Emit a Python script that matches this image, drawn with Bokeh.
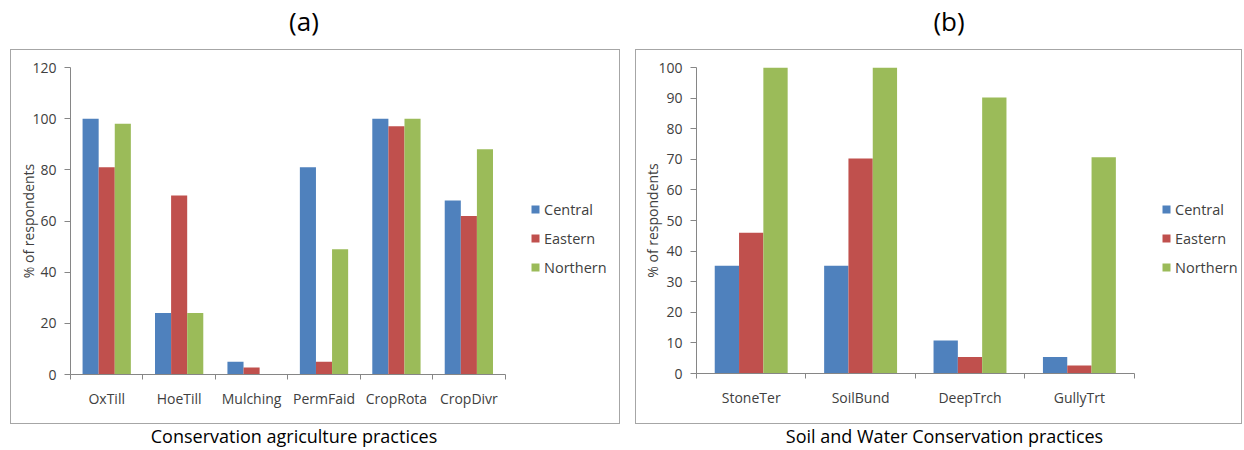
from bokeh.plotting import figure
from bokeh.models import (Range1d, LinearAxis, FixedTicker,
                          Legend, LegendItem, Div, ColumnDataSource)
from bokeh.layouts import row, column
from bokeh.transform import dodge
from bokeh.embed import file_html
from bokeh.resources import INLINE

# ---------------- data ----------------
regions = ["Central", "Eastern", "Northern"]
colors = ["#4F81BD", "#C0504D", "#9BBB59"]

ca_practices = ["OxTill", "HoeTill", "Mulching", "PermFaid", "CropRota", "CropDivr"]
ca_central = [100, 24, 5, 81, 100, 68]
ca_eastern = [81, 70, 2.7, 5, 97, 62]
ca_northern = [98, 24, 0, 49, 100, 88]
ca_yticks = [0, 20, 40, 60, 80, 100, 120]

swc_practices = ["StoneTer", "SoilBund", "DeepTrch", "GullyTrt"]
swc_central = [35.2, 35.2, 10.8, 5.4]
swc_eastern = [46, 70.3, 5.4, 2.6]
swc_northern = [100, 100, 90.2, 70.7]
swc_yticks = [0, 10, 20, 30, 40, 50, 60, 70, 80, 90, 100]

FONT = "Open Sans"
TXT = "#404040"
AX = "#868686"


def make_panel(cats, series, yticks, bar_w, frame_w, frame_h, left, bottom,
               legend_x, legend_y, ylab_standoff):
    n = len(cats)
    centers = [i + 0.5 for i in range(n)]
    src = ColumnDataSource(dict(pos=centers, Central=series[0], Eastern=series[1], Northern=series[2]))
    # the frame also holds the legend area to the right of the bars
    x_end = n * frame_w / bar_w
    p = figure(x_range=Range1d(0, x_end), y_range=Range1d(yticks[0], yticks[-1]),
               frame_width=frame_w, frame_height=frame_h,
               output_backend="svg", toolbar_location=None,
               x_axis_location=None, y_axis_location=None,
               min_border_left=left, min_border_right=1,
               min_border_top=17, min_border_bottom=bottom)
    p.outline_line_color = None
    p.background_fill_color = "white"
    p.border_fill_color = "white"
    p.styles = {"border": "1px solid #a6a6a6"}

    bw = 0.2222
    rends = []
    for i, (reg, col) in enumerate(zip(regions, colors)):
        r = p.vbar(x=dodge("pos", (i - 1) * bw), top=reg, width=bw,
                   source=src, fill_color=col, line_color=None)
        rends.append(r)

    # boundary ticks (Excel style), no labels
    edge_axis = LinearAxis(ticker=FixedTicker(ticks=list(range(n + 1))), bounds=(0, n),
                           major_label_overrides={k: "" for k in range(n + 1)},
                           major_label_standoff=0, major_tick_out=5, major_tick_in=0,
                           minor_tick_line_color=None, axis_line_color=AX,
                           major_tick_line_color=AX, major_label_text_font_size="1px")
    p.add_layout(edge_axis, "below")
    # category labels at centres, no ticks
    cat_axis = LinearAxis(ticker=FixedTicker(ticks=centers),
                          major_label_overrides={c: name for c, name in zip(centers, cats)},
                          major_tick_line_color=None, axis_line_color=None,
                          minor_tick_line_color=None, major_label_standoff=3,
                          major_label_text_font=FONT, major_label_text_font_size="14px",
                          major_label_text_color=TXT)
    p.add_layout(cat_axis, "below")

    yaxis = LinearAxis(ticker=FixedTicker(ticks=yticks), axis_line_color=AX,
                       major_tick_line_color=AX, major_tick_out=6, major_tick_in=0,
                       minor_tick_line_color=None, major_label_standoff=8,
                       major_label_text_font=FONT, major_label_text_font_size="14px",
                       major_label_text_color=TXT,
                       axis_label="% of respondents", axis_label_text_font=FONT,
                       axis_label_text_font_size="14px", axis_label_text_font_style="normal",
                       axis_label_text_color=TXT, axis_label_standoff=ylab_standoff)
    p.add_layout(yaxis, "left")
    p.grid.visible = False

    legend = Legend(items=[LegendItem(label=reg, renderers=[r]) for reg, r in zip(regions, rends)],
                    location=(legend_x, legend_y), orientation="vertical",
                    glyph_width=10, glyph_height=10, label_standoff=4, spacing=9,
                    label_height=20, padding=0, margin=0, border_line_color=None,
                    background_fill_alpha=0, label_text_font=FONT,
                    label_text_font_size="14.5px", label_text_color=TXT)
    p.add_layout(legend, "center")
    return p


pa = make_panel(ca_practices, [ca_central, ca_eastern, ca_northern], ca_yticks,
                433, 548, 305, 59, 51, 460, 97, -9)
pa.margin = (0, 0, 0, 10)
pb = make_panel(swc_practices, [swc_central, swc_eastern, swc_northern], swc_yticks,
                436, 544, 304, 60, 52, 465, 96, -7)
pb.margin = (0, 0, 0, 15)

title_style = {"font-family": FONT, "font-size": "26px", "color": "#000000", "line-height": "43px"}
label_style = {"font-family": FONT, "font-size": "18px", "color": "#000000", "line-height": "24px"}

ta = Div(text='<div style="box-sizing:border-box;width:608px;text-align:center">(a)</div>',
         width=620, height=49, margin=0, styles=title_style)
la = Div(text='<div style="box-sizing:border-box;width:588px;text-align:center">Conservation agriculture practices</div>',
         width=620, height=24, margin=0, styles=label_style)
tb = Div(text='<div style="box-sizing:border-box;padding-left:36px;width:622px;text-align:center">(b)</div>',
         width=622, height=49, margin=0, styles=title_style)
lb = Div(text='<div style="box-sizing:border-box;padding-left:27px;width:622px;text-align:center">Soil and Water Conservation practices</div>',
         width=622, height=24, margin=0, styles=label_style)

layout = row(column(ta, pa, la), column(tb, pb, lb))

open("out.html", "w").write(file_html(layout, INLINE))
